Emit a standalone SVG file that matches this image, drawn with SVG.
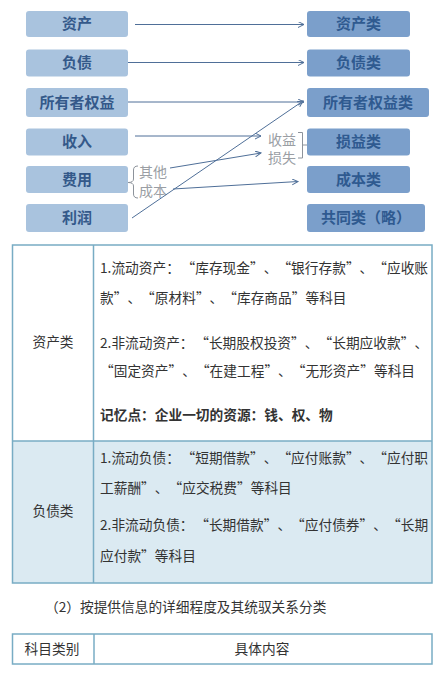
<svg xmlns="http://www.w3.org/2000/svg" width="447" height="677" viewBox="0 0 447 677">
<style>
.lb{fill:#a9c3de}
.rb{fill:#7b9fcb}
.bt{font-family:"Noto Sans CJK SC","Liberation Sans",sans-serif;font-size:15px;font-weight:bold;fill:#34598a;text-anchor:middle}
.rt{fill:#2f5a90}
.gl{font-family:"Noto Sans CJK SC","Liberation Sans",sans-serif;font-size:14px;fill:#9a9ea4}
.cn{stroke:#4f6f98;stroke-width:1;fill:none}
.br{stroke:#8d939b;stroke-width:1;fill:none}
.tb{stroke:#78acc4;stroke-width:1.5;fill:none}
.tx{font-family:"Noto Sans CJK SC","Liberation Sans",sans-serif;font-size:13.7px;fill:#333}
.cc{text-anchor:middle}
.bd{font-weight:bold}
</style>
<defs>
<marker id="ah" markerWidth="8" markerHeight="8" refX="6" refY="3" orient="auto" markerUnits="userSpaceOnUse">
<path d="M0,0 L6,3 L0,6" fill="none" stroke="#4f6f98" stroke-width="1"/>
</marker>
</defs>
<rect width="447" height="677" fill="#fff"/>

<g id="n-zichan"><rect class="lb" x="26" y="11" width="102" height="26" rx="3"/><text class="bt" x="77" y="29">资产</text></g>
<g id="n-fuzhai"><rect class="lb" x="26" y="49.5" width="102" height="27" rx="3"/><text class="bt" x="77" y="68">负债</text></g>
<g id="n-suoyouzhe"><rect class="lb" x="26" y="88" width="102" height="29" rx="3"/><text class="bt" x="77" y="108">所有者权益</text></g>
<g id="n-shouru"><rect class="lb" x="26" y="128.5" width="102" height="27" rx="3"/><text class="bt" x="77" y="147">收入</text></g>
<g id="n-feiyong"><rect class="lb" x="26" y="166" width="102" height="27" rx="3"/><text class="bt" x="77" y="185">费用</text></g>
<g id="n-lirun"><rect class="lb" x="26" y="204" width="102" height="28" rx="3"/><text class="bt" x="77" y="223">利润</text></g>

<g id="r-zichanlei"><rect class="rb" x="307" y="11" width="103" height="26" rx="3"/><text class="bt rt" x="358.5" y="29">资产类</text></g>
<g id="r-fuzhailei"><rect class="rb" x="307" y="49.5" width="103" height="27" rx="3"/><text class="bt rt" x="358.5" y="68">负债类</text></g>
<g id="r-suoyouzhelei"><rect class="rb" x="307" y="88" width="122" height="29" rx="3"/><text class="bt rt" x="368" y="108">所有者权益类</text></g>
<g id="r-sunyilei"><rect class="rb" x="307" y="128.5" width="103" height="27" rx="3"/><text class="bt rt" x="358.5" y="147">损益类</text></g>
<g id="r-chengbenlei"><rect class="rb" x="307" y="166" width="103" height="27" rx="3"/><text class="bt rt" x="358.5" y="185">成本类</text></g>
<g id="r-gongtonglei"><rect class="rb" x="307" y="204" width="118" height="28" rx="3"/><text class="bt rt" x="366" y="223">共同类（略）</text></g>

<g id="labels">
<path class="br" d="M138,166 Q133.5,166 133.5,170 L133.5,179 Q133.5,182.5 128,182.5 Q133.5,182.5 133.5,186 L133.5,194 Q133.5,198 138,198"/>
<text class="gl" x="139" y="177">其他</text>
<text class="gl" x="139" y="196">成本</text>
<path class="br" d="M298,132.5 L302.5,132.5 L302.5,158 L298,158 M302.5,145 L307,145"/>
<text class="gl" x="268" y="144.5">收益</text>
<text class="gl" x="268" y="163">损失</text>
</g>

<g id="connectors">
<line class="cn" x1="135" y1="24.5" x2="304" y2="24.5" marker-end="url(#ah)"/>
<line class="cn" x1="128" y1="62.5" x2="304" y2="62.5" marker-end="url(#ah)"/>
<line class="cn" x1="128" y1="102" x2="304" y2="102" marker-end="url(#ah)"/>
<line class="cn" x1="132" y1="218" x2="303" y2="101" marker-end="url(#ah)"/>
<line class="cn" x1="135" y1="136" x2="261" y2="136" marker-end="url(#ah)"/>
<line class="cn" x1="170" y1="168" x2="261" y2="153" marker-end="url(#ah)"/>
<line class="cn" x1="173" y1="189" x2="298" y2="181.5" marker-end="url(#ah)"/>
</g>

<g id="table1">
<rect x="12.5" y="441" width="419.5" height="142" fill="#dbeaf2"/>
<rect class="tb" x="12.5" y="245" width="419.5" height="338"/>
<line class="tb" x1="12.5" y1="441" x2="432" y2="441"/>
<line class="tb" x1="93.5" y1="245" x2="93.5" y2="583"/>
<text class="tx cc" x="53" y="347">资产类</text>
<text class="tx" y="273"><tspan x="100">1.流动资产：</tspan><tspan x="181.5">“库存现金</tspan><tspan x="250">”</tspan><tspan x="263.7">、</tspan><tspan x="277.4">“银行存款</tspan><tspan x="345.9">”</tspan><tspan x="359.6">、</tspan><tspan x="373.3">“应收账</tspan></text>
<text class="tx" y="303"><tspan x="100">款</tspan><tspan x="113.7">”</tspan><tspan x="127.4">、</tspan><tspan x="141.1">“原材料</tspan><tspan x="195.9">”</tspan><tspan x="209.6">、</tspan><tspan x="223.3">“库存商品</tspan><tspan x="291.8">”等科目</tspan></text>
<text class="tx" y="348"><tspan x="100">2.非流动资产：</tspan><tspan x="195.2">“长期股权投资</tspan><tspan x="291.1">”</tspan><tspan x="304.8">、</tspan><tspan x="318.5">“长期应收款</tspan><tspan x="400.7">”</tspan><tspan x="414.4">、</tspan></text>
<text class="tx" y="376"><tspan x="100">“固定资产</tspan><tspan x="168.5">”</tspan><tspan x="182.2">、</tspan><tspan x="195.9">“在建工程</tspan><tspan x="264.4">”</tspan><tspan x="278.1">、</tspan><tspan x="291.8">“无形资产</tspan><tspan x="360.3">”等科目</tspan></text>
<text class="tx bd" x="100" y="420">记忆点：企业一切的资源：钱、权、物</text>
<text class="tx cc" x="53" y="516">负债类</text>
<text class="tx" y="463"><tspan x="100">1.流动负债：</tspan><tspan x="181.5">“短期借款</tspan><tspan x="250">”</tspan><tspan x="263.7">、</tspan><tspan x="277.4">“应付账款</tspan><tspan x="345.9">”</tspan><tspan x="359.6">、</tspan><tspan x="373.3">“应付职</tspan></text>
<text class="tx" y="493"><tspan x="100">工薪酬</tspan><tspan x="141.1">”</tspan><tspan x="154.8">、</tspan><tspan x="168.5">“应交税费</tspan><tspan x="237">”等科目</tspan></text>
<text class="tx" y="530"><tspan x="100">2.非流动负债：</tspan><tspan x="195.2">“长期借款</tspan><tspan x="263.7">”</tspan><tspan x="277.4">、</tspan><tspan x="291.1">“应付债券</tspan><tspan x="359.6">”</tspan><tspan x="373.3">、</tspan><tspan x="387">“长期</tspan></text>
<text class="tx" y="561"><tspan x="100">应付款</tspan><tspan x="141.1">”等科目</tspan></text>
</g>

<text class="tx" x="45" y="612">（2）按提供信息的详细程度及其统驭关系分类</text>

<g id="table2">
<rect class="tb" x="12.5" y="634" width="419.5" height="30"/>
<line class="tb" x1="94" y1="634" x2="94" y2="664"/>
<text class="tx cc" x="52" y="654">科目类别</text>
<text class="tx cc" x="262" y="654">具体内容</text>
</g>
</svg>
